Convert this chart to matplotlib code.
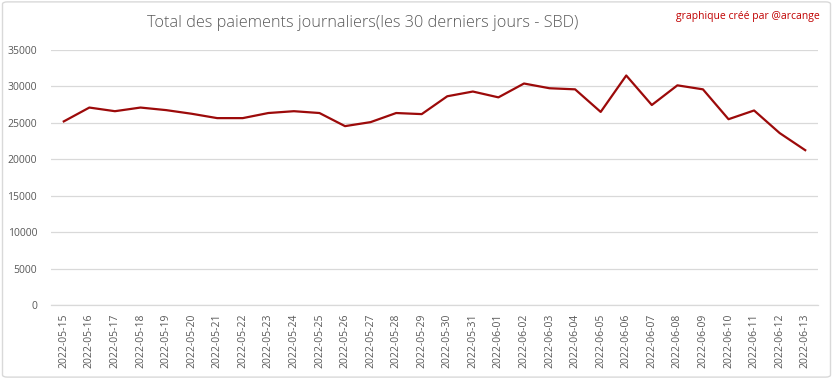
import matplotlib
matplotlib.use("Agg")
import matplotlib.pyplot as plt
from matplotlib.patches import FancyBboxPatch

dates = ["2022-05-15", "2022-05-16", "2022-05-17", "2022-05-18", "2022-05-19",
         "2022-05-20", "2022-05-21", "2022-05-22", "2022-05-23", "2022-05-24",
         "2022-05-25", "2022-05-26", "2022-05-27", "2022-05-28", "2022-05-29",
         "2022-05-30", "2022-05-31", "2022-06-01", "2022-06-02", "2022-06-03",
         "2022-06-04", "2022-06-05", "2022-06-06", "2022-06-07", "2022-06-08",
         "2022-06-09", "2022-06-10", "2022-06-11", "2022-06-12", "2022-06-13"]
payments = [25200, 27100, 26600, 27100, 26750,
            26250, 25650, 25650, 26350, 26600,
            26350, 24550, 25100, 26350, 26200,
            28650, 29300, 28500, 30400, 29750,
            29600, 26500, 31500, 27450, 30150,
            29600, 25500, 26700, 23600, 21250]
yticks = [0, 5000, 10000, 15000, 20000, 25000, 30000, 35000]

LINE = "#9C0A0A"
GRID = "#D9D9D9"
TXT = "#595959"

plt.rcParams["font.family"] = ["Open Sans", "DejaVu Sans"]

fig = plt.figure(figsize=(8.33, 3.79), dpi=100)
fig.patch.set_facecolor("white")
border = FancyBboxPatch((0.003, 0.005), 0.994, 0.99, boxstyle="round,pad=0,rounding_size=0.006",
                        transform=fig.transFigure, facecolor="none", edgecolor=GRID, lw=1)
fig.patches.append(border)

ax = fig.add_axes([51 / 833, 1 - 305 / 379, 767 / 833, 255 / 379])
x = list(range(len(dates)))
ax.plot(x, payments, color=LINE, lw=1.6, solid_joinstyle="round")

ax.set_xlim(-0.5, len(dates) - 0.5)
ax.set_ylim(0, 35000)
ax.set_yticks(yticks)
ax.set_yticklabels([str(v) for v in yticks])
ax.set_xticks(x)
ax.set_xticklabels(dates, rotation=90)
ax.grid(axis="y", color=GRID, lw=0.9)
ax.set_axisbelow(True)
for s in ["top", "right", "left"]:
    ax.spines[s].set_visible(False)
ax.spines["bottom"].set_color(GRID)
ax.spines["bottom"].set_linewidth(0.9)
ax.tick_params(axis="both", length=0, colors=TXT, labelsize=7.5)
ax.tick_params(axis="y", pad=10)
ax.tick_params(axis="x", pad=6)

fig.text(363 / 833, 1 - 23 / 379, "Total des paiements journaliers(les 30 derniers jours - SBD)",
         ha="center", va="center", fontsize=11.7, color=TXT, fontweight="light")
fig.text(820 / 833, 1 - 17 / 379, "graphique créé par @arcange",
         ha="right", va="center", fontsize=7.5, color="#C00000")

fig.savefig("out.png", dpi=100)
